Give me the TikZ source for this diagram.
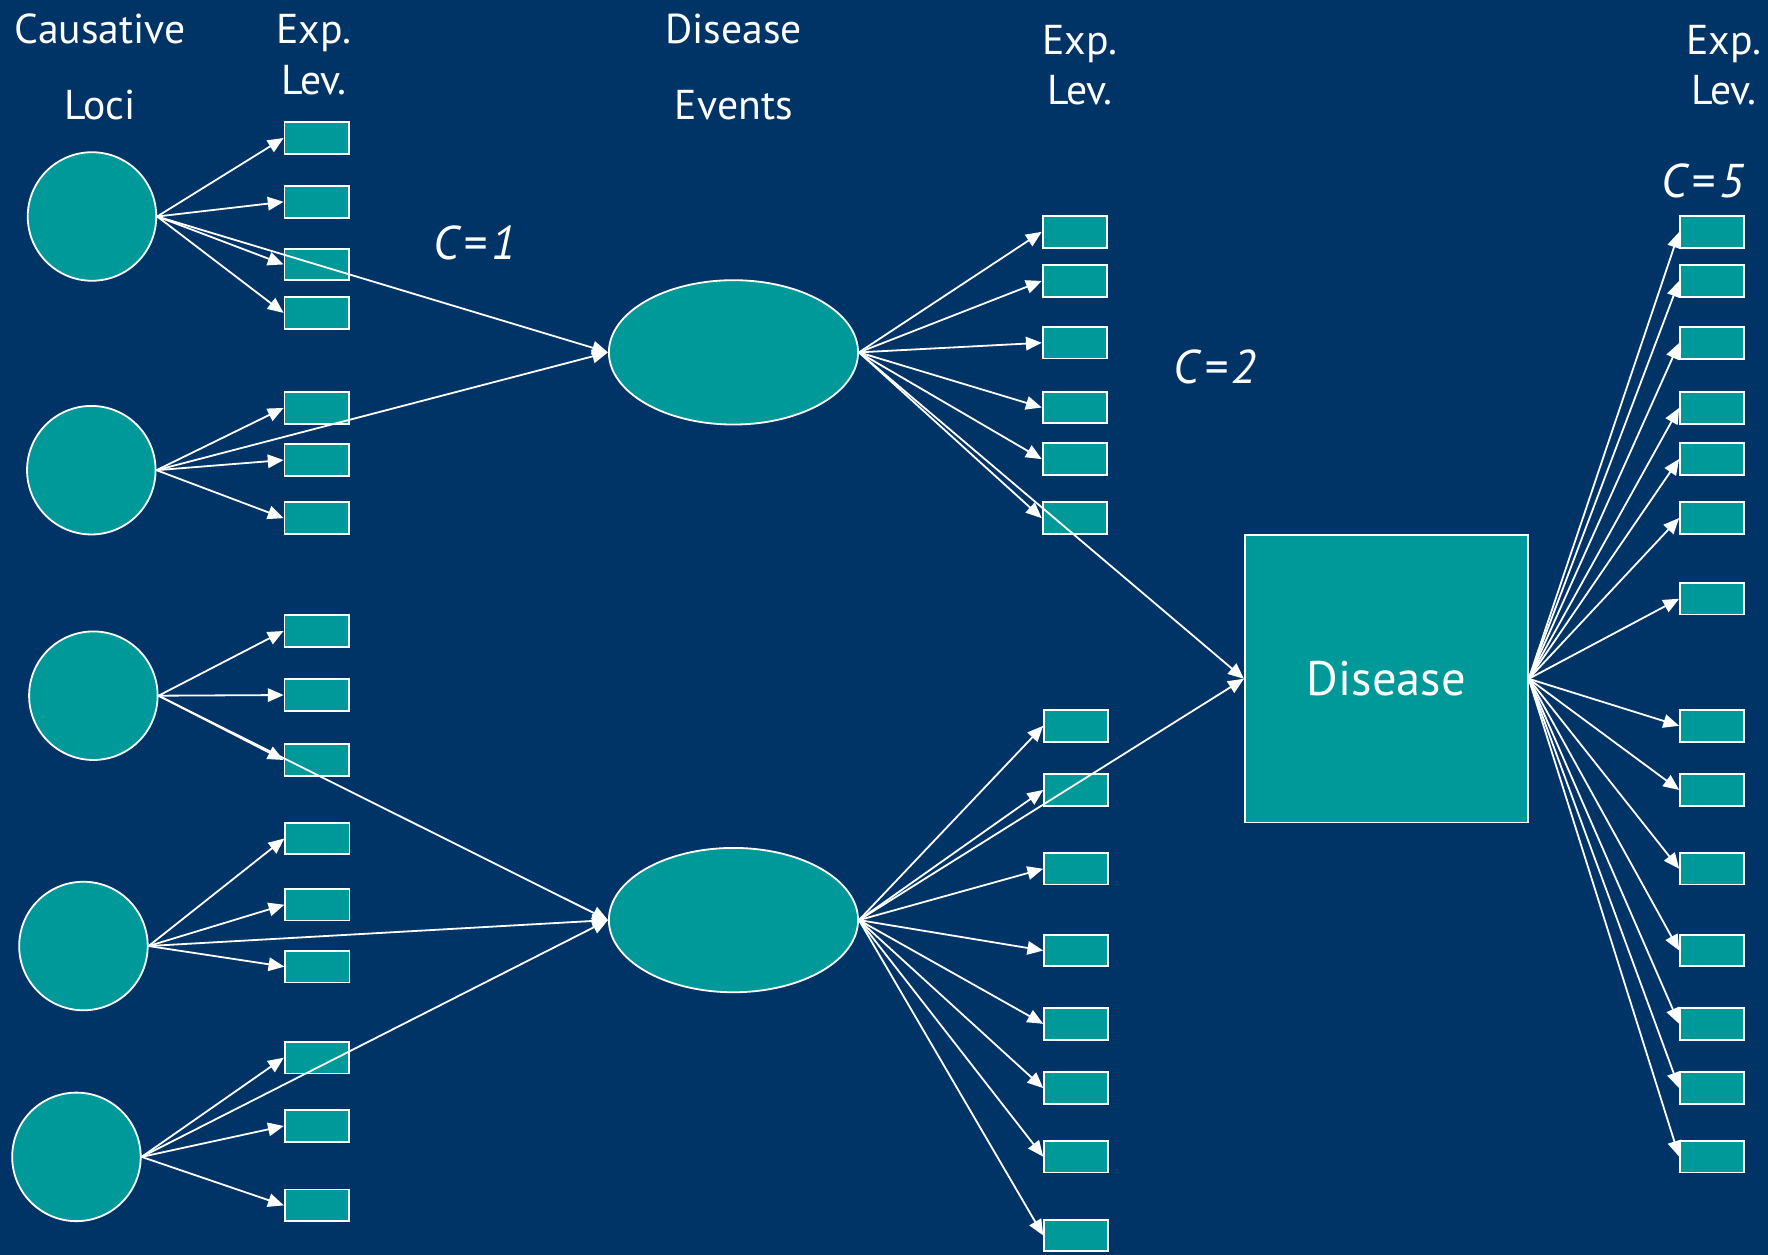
\documentclass[tikz,border=0pt]{standalone}
\usepackage{fontspec}
\setmainfont{PT Sans}
\usepackage{xcolor}
\usepackage{tikz}
\usetikzlibrary{arrows.meta, shapes.geometric}
\definecolor{slide-navy}{RGB}{0, 51, 102}
\definecolor{slide-teal}{RGB}{0, 153, 153}
\newcommand{\ceq}[1]{C\kern4pt=\kern4pt#1}

\begin{document}
\begin{tikzpicture}[x=1pt, y=-1pt,
    locus/.style={circle, draw=white, line width=1.6pt, fill=slide-teal,
                  minimum size=114pt, inner sep=0pt},
    lev/.style={rectangle, draw=white, line width=1.6pt, fill=slide-teal,
                minimum width=57pt, minimum height=28pt, inner sep=0pt},
    event/.style={ellipse, draw=white, line width=1.6pt, fill=slide-teal,
                  minimum width=221pt, minimum height=128pt, inner sep=0pt},
    sick/.style={rectangle, draw=white, line width=1.6pt, fill=slide-teal,
                 minimum width=251pt, minimum height=255pt, inner sep=0pt,
                 text=white, font=\fontsize{43}{50}\selectfont},
    hdr/.style={anchor=base, text=white, inner sep=0pt,
                font=\fontsize{37}{44}\selectfont},
    clab/.style={anchor=base, text=white, inner sep=0pt,
                 font=\fontsize{42}{48}\selectfont\itshape},
    arr/.style={-{Triangle[length=14pt, width=12pt]}, line width=1.6pt, white}
  ]
    \fill[slide-navy] (0,0) rectangle (1568,1113);
    \useasboundingbox (0,0) rectangle (1568,1113);

    \node[hdr] (h1) at (89,38.4)    {Causative};
    \node[hdr] (h2) at (88.7,106.4) {Loci};
    \node[hdr] (h3) at (278.4,38.4) {Exp.};
    \node[hdr] (h4) at (278.4,83.6) {Lev.};
    \node[hdr] (h5) at (650.8,38.2) {Disease};
    \node[hdr] (h6) at (650.8,106.4) {Events};
    \node[hdr] (h7) at (957.8,47.9) {Exp.};
    \node[hdr] (h8) at (957.8,93.1) {Lev.};
    \node[hdr] (h9) at (1529,47.9)  {Exp.};
    \node[hdr] (h10) at (1529,93.1) {Lev.};
    \node[clab] (c1) at (421,229.7)  {\ceq{1}};
    \node[clab] (c2) at (1077.5,340) {\ceq{2}};
    \node[clab] (c5) at (1510,175.3) {\ceq{5}};

    \node[locus] (l1) at (81.6,192)  {};
    \node[locus] (l2) at (81,417)    {};
    \node[locus] (l3) at (82.8,617)  {};
    \node[locus] (l4) at (74,839)    {};
    \node[locus] (l5) at (67.8,1026) {};

    \foreach \y [count=\i] in {122.4,179,234.5,277.5}
      \node[lev] (p1\i) at (280.8,\y) {};
    \foreach \y [count=\i] in {361.8,408,459.5}
      \node[lev] (p2\i) at (280.8,\y) {};
    \foreach \y [count=\i] in {559.6,616.4,674}
      \node[lev] (p3\i) at (280.8,\y) {};
    \foreach \y [count=\i] in {743.6,802.4,857.3}
      \node[lev] (p4\i) at (281.5,\y) {};
    \foreach \y [count=\i] in {938,998.6,1069}
      \node[lev] (p5\i) at (281,\y) {};

    \node[event] (ev1) at (650.5,312.5) {};
    \node[event] (ev2) at (650.5,816)   {};

    \foreach \y [count=\i] in {205.6,249.2,304,361.4,407.2,459.5}
      \node[lev] (q1\i) at (953.2,\y) {};
    \foreach \y [count=\i] in {643.7,700.6,770.5,843,908,965,1025.8,1095.7}
      \node[lev] (q2\i) at (954.5,\y) {};

    \node[sick] (dis) at (1229.5,602) {Disease};

    \foreach \y [count=\i] in {205.7,249.2,304.2,361.7,407,459.4,531,643.7,
                               700.6,770.5,843,908,965,1025.8}
      \node[lev] (r\i) at (1518.5,\y) {};

    \foreach \i in {1,...,4} \draw[arr] (l1.east) -- (p1\i.west);
    \foreach \i in {1,...,3} \draw[arr] (l2.east) -- (p2\i.west);
    \foreach \i in {1,...,3} \draw[arr] (l3.east) -- (p3\i.west);
    \foreach \i in {1,...,3} \draw[arr] (l4.east) -- (p4\i.west);
    \foreach \i in {1,...,3} \draw[arr] (l5.east) -- (p5\i.west);
    \draw[arr] (l1.east) -- (ev1.west);
    \draw[arr] (l2.east) -- (ev1.west);
    \draw[arr] (l3.east) -- (ev2.west);
    \draw[arr] (l4.east) -- (ev2.west);
    \draw[arr] (l5.east) -- (ev2.west);

    \foreach \i in {1,...,6} \draw[arr] (ev1.east) -- (q1\i.west);
    \foreach \i in {1,...,8} \draw[arr] (ev2.east) -- (q2\i.west);
    \draw[arr] (ev1.east) -- (dis.west);
    \draw[arr] (ev2.east) -- (dis.west);

    \foreach \i in {1,...,14} \draw[arr] (dis.east) -- (r\i.west);
  \end{tikzpicture}
\end{document}
